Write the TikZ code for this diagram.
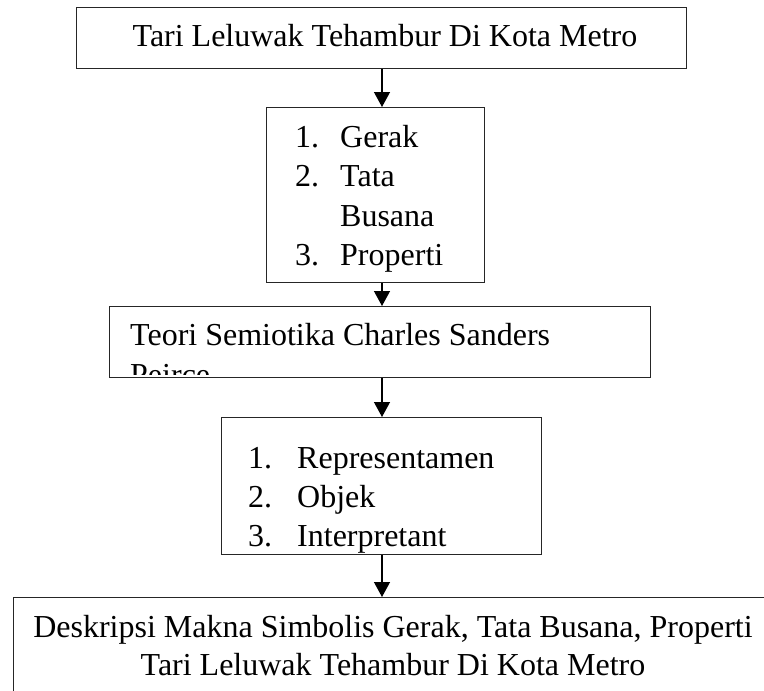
\documentclass[tikz,border=0pt]{standalone}
\usepackage{fontspec}
\setmainfont{Liberation Serif}
\usetikzlibrary{arrows.meta}
\begin{document}
\begin{tikzpicture}[x=1pt,y=-1pt,
  box/.style={draw=black!85, line width=1.3pt, inner sep=0pt, anchor=north west},
  txt/.style={inner sep=0pt, font=\fontsize{32}{38}\selectfont},
  arr/.style={draw, line width=1.3pt, -{Triangle[width=16pt,length=15pt]}}]
\useasboundingbox (0,0) rectangle (764,691);
% boxes
\node[box, minimum width=610pt, minimum height=61pt] (b1) at (76,7) {};
\node[box, minimum width=218pt, minimum height=175pt] (b2) at (266,107) {};
\node[box, minimum width=541pt, minimum height=71pt] (b3) at (109,306) {};
\node[box, minimum width=320pt, minimum height=137pt] (b4) at (221,417) {};
\begin{scope}
  \clip (0,0) rectangle (764,691);
  \node[box, minimum width=1000pt, minimum height=200pt] (b5) at (13,597) {};
\end{scope}
% arrows
\coordinate (ax) at (382,0);
\draw[arr] (b1.south -| ax) -- (b2.north -| ax);
\draw[arr] (b2.south -| ax) -- (b3.north -| ax);
\draw[arr] (b3.south -| ax) -- (b4.north -| ax);
\draw[arr] (b4.south -| ax) -- (b5.north -| ax);
% box 1 text
\node[txt, anchor=base] (t1) at (385,46) {Tari Leluwak Tehambur Di Kota Metro};
% box 2 list
\node[txt, anchor=base west] (n21) at (295,147) {1.};
\node[txt, anchor=base west] (l21) at (340,147) {Gerak};
\node[txt, anchor=base west] (n22) at (295,186.5) {2.};
\node[txt, anchor=base west] (l22) at (340,186.5) {Tata};
\node[txt, anchor=base west] (l22b) at (340,226) {Busana};
\node[txt, anchor=base west] (n23) at (295,265.5) {3.};
\node[txt, anchor=base west] (l23) at (340,265.5) {Properti};
% box 3 text
\node[txt, anchor=base west] (t3) at (130,345) {Teori Semiotika Charles Sanders};
\begin{scope}
  \clip (111,308) rectangle (648,374);
  \node[txt, anchor=base west] (t3b) at (130,385) {Peirce};
\end{scope}
% box 4 list
\node[txt, anchor=base west] (n41) at (248,468) {1.};
\node[txt, anchor=base west] (l41) at (297,468) {Representamen};
\node[txt, anchor=base west] (n42) at (248,507) {2.};
\node[txt, anchor=base west] (l42) at (297,507) {Objek};
\node[txt, anchor=base west] (n43) at (248,546) {3.};
\node[txt, anchor=base west] (l43) at (297,546) {Interpretant};
% box 5 text
\node[txt, anchor=base] (t51) at (393,637) {Deskripsi Makna Simbolis Gerak, Tata Busana, Properti};
\node[txt, anchor=base] (t52) at (393,675) {Tari Leluwak Tehambur Di Kota Metro};
\end{tikzpicture}
\end{document}
